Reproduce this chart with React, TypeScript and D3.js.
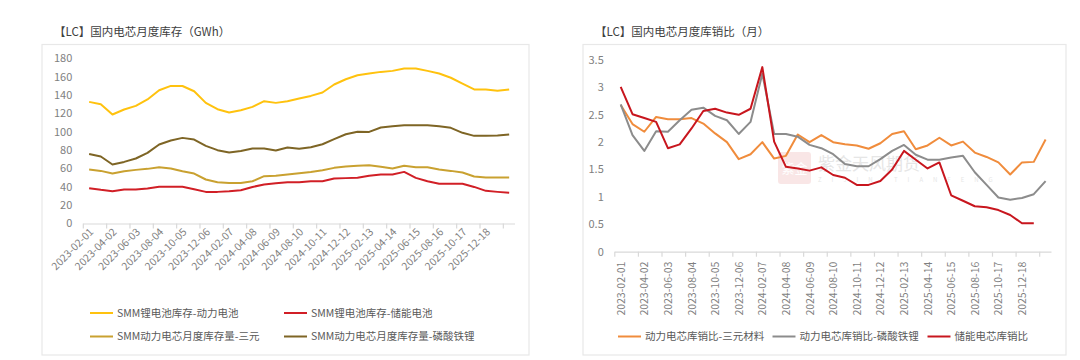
import React from "react";
import * as d3 from "d3";

// x axis: 37 monthly points, Excel shows a label on every second one
const months = d3.range(37);
const tickLabels = [
  "2023-02-01", "2023-04-02", "2023-06-03", "2023-08-04", "2023-10-05", "2023-12-06",
  "2024-02-07", "2024-04-08", "2024-06-09", "2024-08-10", "2024-10-11", "2024-12-12",
  "2025-02-13", "2025-04-14", "2025-06-15", "2025-08-16", "2025-10-17", "2025-12-18",
];

// left chart: inventory (GWh)
const invPower = [132.7, 130.1, 118.9, 124.4, 128.3, 135.3, 145.4, 150.1, 150, 144.3, 131.6, 124.7,
  121.1, 123.6, 127.2, 133.4, 131.6, 133.4, 136.4, 139.2, 142.9, 151.6, 157.4, 161.8,
  163.6, 165.4, 166.5, 169.1, 169.1, 166.5, 163.6, 159, 152.7, 146.2, 146.2, 144.7, 146.2];
const invStorage = [38.5, 36.7, 35.2, 37, 37, 38.2, 40, 40, 40, 37.4, 34.5, 34.5,
  35.2, 36.3, 39.9, 42.5, 44, 45.1, 45.1, 46.1, 46.1, 49.1, 49.5, 50,
  52, 53.4, 53.4, 56.3, 49.8, 46.1, 43.3, 43.3, 43.3, 39.9, 35.6, 34.5, 33.5];
const invTernary = [58.9, 57.4, 54.5, 57, 58.5, 59.6, 61.4, 60, 57, 54.5, 48, 45,
  44.3, 44.3, 46.1, 51.6, 52, 53.4, 54.9, 56.3, 58.1, 60.7, 62.2, 63,
  63.6, 61.8, 60, 62.9, 61.4, 61.4, 58.9, 57.4, 55.6, 51.3, 50.2, 50.2, 50.2];
const invLfp = [75.9, 73.1, 64.4, 67.2, 70.9, 77, 86.2, 90.5, 93.4, 91.6, 84.7, 80,
  77.4, 79.2, 81.8, 81.8, 79.6, 82.9, 81.5, 83.2, 86.5, 92, 97.4, 100,
  99.9, 104.7, 106.2, 107.3, 107.3, 107.3, 106.2, 104.4, 98.9, 95.6, 95.6, 96, 97.1];

// right chart: inventory / sales ratio (months)
const ratioTernary = [2.68, 2.33, 2.19, 2.46, 2.42, 2.42, 2.44, 2.34, 2.16, 2.0, 1.69, 1.78,
  2.0, 1.7, 1.75, 2.14, 2.0, 2.13, 2.0, 1.96, 1.94, 1.88, 1.98, 2.15,
  2.2, 1.87, 1.94, 2.08, 1.94, 2.01, 1.81, 1.73, 1.63, 1.41, 1.63, 1.64, 2.05];
const ratioLfp = [2.69, 2.13, 1.84, 2.2, 2.19, 2.4, 2.59, 2.63, 2.48, 2.4, 2.15, 2.37,
  3.25, 2.15, 2.15, 2.1, 1.95, 1.89, 1.78, 1.6, 1.56, 1.56, 1.69, 1.84,
  1.95, 1.77, 1.68, 1.68, 1.72, 1.75, 1.45, 1.22, 0.99, 0.95, 0.98, 1.05, 1.29];
const ratioStorage = [3.01, 2.51, 2.44, 2.37, 1.89, 1.96, 2.25, 2.57, 2.61, 2.54, 2.5, 2.61,
  3.37, 2.01, 1.55, 1.52, 1.48, 1.54, 1.4, 1.35, 1.22, 1.22, 1.29, 1.5,
  1.84, 1.68, 1.52, 1.63, 1.03, 0.93, 0.83, 0.81, 0.76, 0.67, 0.52, 0.52];

const leftSeries = [
  { name: "SMM锂电池库存-动力电池", color: "#FFC20E", values: invPower },
  { name: "SMM锂电池库存-储能电池", color: "#D11F26", values: invStorage },
  { name: "SMM动力电芯月度库存量-三元", color: "#C9A130", values: invTernary },
  { name: "SMM动力电芯月度库存量-磷酸铁锂", color: "#7E6525", values: invLfp },
];
const rightSeries = [
  { name: "动力电芯库销比-三元材料", color: "#F08C3C", values: ratioTernary },
  { name: "动力电芯库销比-磷酸铁锂", color: "#8C8C8C", values: ratioLfp },
  { name: "储能电芯库销比", color: "#C8161E", values: ratioStorage },
];

const font = '"Noto Sans CJK SC", "Noto Sans", sans-serif';
const axisGray = "#D9D9D9";
const labelGray = "#7F7F7F";

function Chart(props) {
  const { box, title, xRange, yRange, yDomain, yTickCount, series, vertical, legend } = props;

  const x = d3.scaleBand().domain(months).range(xRange);
  const cx = (i) => x(i) + x.bandwidth() / 2;
  const y = d3.scaleLinear().domain(yDomain).range(yRange);
  const line = d3.line().x((d, i) => cx(i)).y((d) => y(d));

  const tickIdx = months.filter((i) => i % 2 === 0);

  return (
    <g>
      <rect x={box[0]} y={box[1]} width={box[2]} height={box[3]} fill="none" stroke="#E8E8E8" strokeWidth={1.2} />
      <text x={box[0] + 12} y={box[1] - 8.5} fontSize={11.5} fill="#404040">
        {title}
      </text>

      {/* y labels */}
      {y.ticks(yTickCount).map((t) => (
        <text key={t} x={xRange[0] - 11} y={y(t)} dy="0.35em" textAnchor="end" fontSize={11} fill={labelGray}>
          {String(t)}
        </text>
      ))}

      {/* x axis */}
      <line x1={xRange[0]} x2={xRange[1]} y1={yRange[0] + 0.5} y2={yRange[0] + 0.5} stroke={axisGray} strokeWidth={1.2} />
      {tickIdx.map((i) => (
        <line key={i} x1={x(i)} x2={x(i)} y1={yRange[0]} y2={yRange[0] + 5} stroke={axisGray} strokeWidth={1.2} />
      ))}
      {tickLabels.map((lab, k) => {
        const px = cx(k * 2);
        const tr = vertical
          ? `translate(${px + 4},${yRange[0] + 10}) rotate(-90)`
          : `translate(${px + 5},${yRange[0] + 9}) rotate(-45)`;
        return (
          <text key={lab} transform={tr} textAnchor="end" fontSize={10.5} fill={labelGray}>
            {lab}
          </text>
        );
      })}

      {props.children}

      {series.map((s) => (
        <path key={s.name} d={line(s.values)} fill="none" stroke={s.color} strokeWidth={2} strokeLinejoin="round" />
      ))}

      {/* legend */}
      {series.map((s, i) => {
        const [lx, ly] = legend[i];
        return (
          <g key={s.name}>
            <line x1={lx} x2={lx + 23} y1={ly} y2={ly} stroke={s.color} strokeWidth={2} />
            <text x={lx + 27} y={ly} dy="0.35em" fontSize={10.5} fill="#595959">
              {s.name}
            </text>
          </g>
        );
      })}
    </g>
  );
}

export default function App() {
  return (
    <svg
      width={1080}
      height={360}
      style={{ position: "absolute", left: 0, top: 0, background: "#fff", fontFamily: font }}
    >
      <Chart
        box={[42, 44.5, 487, 310.5]}
        title="【LC】国内电芯月度库存（GWh）"
        xRange={[83.3, 515]}
        yRange={[223.5, 58.5]}
        yDomain={[0, 180]}
        yTickCount={10}
        series={leftSeries}
        vertical={false}
        legend={[[90, 313], [284, 313], [90, 336.5], [284, 336.5]]}
      />
      <Chart
        box={[583, 44.5, 483, 310.5]}
        title="【LC】国内电芯月度库销比（月）"
        xRange={[614.8, 1051.5]}
        yRange={[251.7, 60]}
        yDomain={[0, 3.5]}
        yTickCount={7}
        series={rightSeries}
        vertical={true}
        legend={[[618, 336.5], [772.5, 336.5], [927.5, 336.5]]}
      >
        {/* faint watermark */}
        <g opacity={0.45}>
          <rect x={778} y={152} width={33} height={32} rx={3} fill="#F2CACA" />
          <text x={794.5} y={168} dy="0.35em" textAnchor="middle" fontSize={13} fill="#fff">紫金</text>
          <text x={818} y={164} dy="0.35em" fontSize={17} fill="#C8C8C8">紫金天风期货</text>
          <text x={818} y={180} dy="0.35em" fontSize={6} fill="#C8C8C8" letterSpacing={10}>ZIJIN TIANFENG</text>
        </g>
      </Chart>
    </svg>
  );
}
